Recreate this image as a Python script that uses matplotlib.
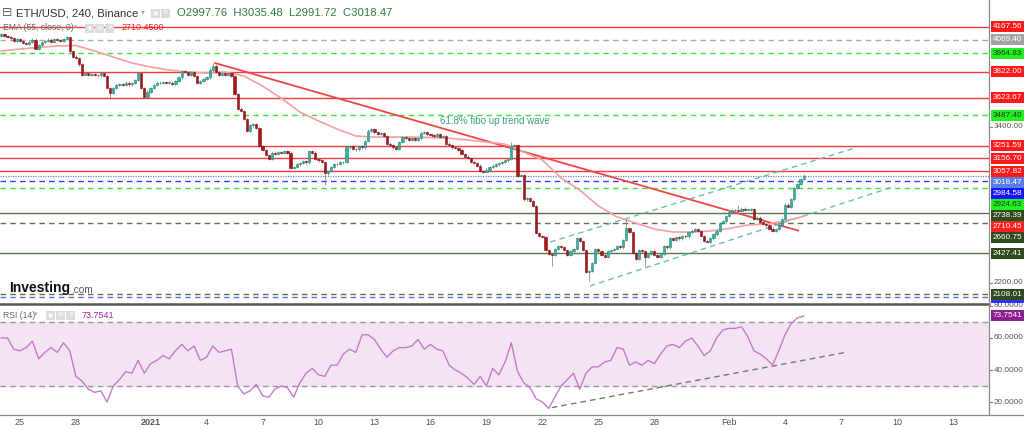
import numpy as np
import pandas as pd
import matplotlib
matplotlib.use("Agg")
import matplotlib.pyplot as plt
from matplotlib.patches import Rectangle
from matplotlib.transforms import blended_transform_factory

plt.rcParams["font.family"] = ["Liberation Sans", "DejaVu Sans"]

START = pd.Timestamp("2020-12-24 00:00")
BAR = pd.Timedelta("4h")

# 4h closes, one row per day (Dec 24 .. Feb 4), then the open Feb 5 candle
close_by_day = [
    [4110, 4100, 4090, 4080, 4060, 4075],
    [4060, 4045, 4040, 4055, 4070, 4000],
    [4030, 4050, 4060, 4070, 4055, 4075],
    [4065, 4060, 4075, 4090, 3980, 3940],
    [3930, 3880, 3800, 3810, 3800, 3805],
    [3800, 3795, 3810, 3790, 3700, 3660],
    [3700, 3720, 3730, 3720, 3740, 3725],
    [3735, 3760, 3810, 3700, 3630, 3670],
    [3700, 3720, 3740, 3735, 3745, 3740],
    [3740, 3730, 3750, 3780, 3830, 3820],
    [3800, 3820, 3790, 3740, 3750, 3765],
    [3780, 3840, 3870, 3820, 3800, 3810],
    [3800, 3810, 3790, 3650, 3540, 3520],
    [3460, 3370, 3410, 3420, 3390, 3250],
    [3220, 3180, 3150, 3200, 3190, 3205],
    [3195, 3210, 3200, 3080, 3090, 3110],
    [3120, 3135, 3125, 3210, 3200, 3150],
    [3140, 3130, 3040, 3060, 3090, 3110],
    [3115, 3125, 3130, 3240, 3250, 3230],
    [3225, 3250, 3240, 3290, 3370, 3380],
    [3360, 3345, 3350, 3330, 3270, 3260],
    [3240, 3230, 3280, 3320, 3310, 3300],
    [3310, 3300, 3315, 3350, 3360, 3340],
    [3335, 3325, 3340, 3320, 3330, 3270],
    [3260, 3240, 3235, 3220, 3190, 3170],
    [3160, 3130, 3120, 3100, 3060, 3050],
    [3070, 3090, 3100, 3110, 3120, 3130],
    [3140, 3150, 3250, 3260, 3020, 3030],
    [2840, 2850, 2830, 2790, 2580, 2560],
    [2550, 2450, 2420, 2410, 2460, 2480],
    [2470, 2450, 2410, 2440, 2460, 2540],
    [2520, 2450, 2280, 2290, 2350, 2460],
    [2440, 2410, 2400, 2440, 2450, 2460],
    [2480, 2470, 2530, 2620, 2590, 2430],
    [2380, 2450, 2440, 2400, 2420, 2440],
    [2410, 2395, 2420, 2480, 2470, 2540],
    [2530, 2550, 2540, 2560, 2555, 2590],
    [2600, 2610, 2595, 2560, 2520, 2510],
    [2540, 2570, 2600, 2660, 2670, 2710],
    [2740, 2760, 2755, 2750, 2770, 2760],
    [2760, 2765, 2690, 2700, 2665, 2650],
    [2640, 2615, 2600, 2610, 2640, 2690],
    [2800, 2780, 2840, 2930, 2960, 2997.76],
]
last_close = 3018.47
first_open = 4100
wick_high = {68: 3890, 164: 3280, 201: 2690, 237: 2800, 258: 3035.48}
wick_low = {35: 3610, 104: 2950, 177: 2330, 189: 2215, 207: 2330, 258: 2991.72}

# EMA(55) read once per day, plus the last value
ema_daily = [3983, 3998, 4010, 4021, 4025, 3983, 3936, 3890, 3860, 3836, 3821,
             3813, 3821, 3790, 3713, 3620, 3513, 3444, 3382, 3328, 3320, 3320,
             3320, 3316, 3312, 3297, 3282, 3266, 3205, 3143, 3005, 2912, 2790,
             2705, 2658, 2612, 2589, 2589, 2597, 2616, 2643, 2650, 2674]
ema_last = 2710.45

# RSI(14) read every second candle
rsi_values = [60, 60, 53, 52, 54, 58, 47, 51, 54, 51,
              57, 52, 36, 33, 28, 26, 27, 20, 30, 34,
              39, 38, 46, 38, 44, 46, 49, 47, 52, 56,
              52, 55, 46, 48, 55, 51, 52, 53, 30, 25,
              27, 31, 24, 23, 28, 30, 29, 23, 32, 38,
              41, 37, 36, 43, 43, 50, 53, 51, 62, 62,
              59, 53, 48, 52, 54, 54, 55, 59, 53, 56,
              53, 52, 43, 40, 38, 35, 31, 36, 30, 41,
              37, 45, 57, 39, 32, 29, 22, 20, 16, 23,
              30, 34, 38, 28, 38, 42, 42, 45, 46, 54,
              53, 43, 45, 43, 46, 44, 50, 55, 56, 54,
              58, 60, 55, 49, 52, 60, 65, 66, 66, 67,
              61, 52, 50, 47, 43, 52, 62, 69, 72.5, 73.7541]

# horizontal levels
level_prices = [4167.56, 4069.40, 3964.83, 3822.00, 3623.67, 3487.40, 3251.59,
                3156.70, 3057.82, 2984.58, 2924.63, 2738.39, 2660.75, 2427.41,
                2108.01]
level_kinds = ["red", "gray", "lime", "red", "red", "lime", "red",
               "red", "red", "blue", "lime", "olive", "olive_dash", "olive",
               "olive_dash"]
hidden_level = 2085.00

trend_red = [("2021-01-04 11:00", 3890), ("2021-02-04 17:00", 2600)]
channel_upper = [("2021-01-22 10:00", 2512), ("2021-02-07 18:00", 3236)]
channel_lower = [("2021-01-24 13:00", 2173), ("2021-02-09 22:00", 2943)]
rsi_trend = [("2021-01-22 12:00", 16.5), ("2021-02-07 09:00", 51.3)]

tick_dates = ["2020-12-25", "2020-12-28", "2021-01-01", "2021-01-04", "2021-01-07",
              "2021-01-10", "2021-01-13", "2021-01-16", "2021-01-19", "2021-01-22",
              "2021-01-25", "2021-01-28", "2021-02-01", "2021-02-04", "2021-02-07",
              "2021-02-10", "2021-02-13"]
tick_labels = ["25", "28", "2021", "4", "7", "10", "13", "16", "19", "22",
               "25", "28", "Feb", "4", "7", "10", "13"]

LINE_STYLE = {
    "red": ("#f53b3b", "-"),
    "gray": ("#aaaaaa", (0, (4, 3))),
    "lime": ("#3ee83e", (0, (4, 3))),
    "blue": ("#3b3bf5", (0, (4, 3))),
    "olive": ("#5b7450", "-"),
    "olive_dash": ("#5b7450", (0, (4, 3))),
}
LABEL_STYLE = {
    "red": ("#ff1a1a", "white"),
    "gray": ("#a3a3a3", "white"),
    "lime": ("#22f022", "#1a3a1a"),
    "blue": ("#1414ff", "white"),
    "olive": ("#2f4a1e", "white"),
    "olive_dash": ("#2f4a1e", "white"),
    "current": ("#5a80e8", "white"),
    "ema": ("#ff2020", "white"),
}


def tx(ts):
    return (pd.Timestamp(ts) - START) / BAR


W, H = 1024, 430
AX_RIGHT = 989
PMAX, PMIN = 4375.4, 2042.5
RMAX, RMIN = 80.6, 11.9
FS = 5.9

closes = np.array([c for day in close_by_day for c in day] + [last_close], dtype=float)
opens = np.concatenate([[first_open], closes[:-1]])
highs = np.maximum(opens, closes) + 9
lows = np.minimum(opens, closes) - 9
for i, v in wick_high.items():
    highs[i] = v
for i, v in wick_low.items():
    lows[i] = v
xs = np.arange(len(closes))
up = closes >= opens

fig = plt.figure(figsize=(W / 100, H / 100), dpi=100)
fig.patch.set_facecolor("white")
ax = fig.add_axes([0, 1 - 303 / H, AX_RIGHT / W, 303 / H])
rx = fig.add_axes([0, 1 - 415 / H, AX_RIGHT / W, 110 / H])
xmin, xmax = -0.42, 317.6
for a in (ax, rx):
    a.set_xlim(xmin, xmax)
    a.axis("off")
ax.set_ylim(PMIN, PMAX)
rx.set_ylim(RMIN, RMAX)

# levels
for p, k in zip(level_prices, level_kinds):
    col, ls = LINE_STYLE[k]
    ax.axhline(p, color=col, linestyle=ls, lw=1.0, zorder=1)
ax.axhline(hidden_level, color="#6a6af5", linestyle=(0, (4, 3)), lw=1.0, zorder=1)
ax.axhline(last_close, color="#6688ee", linestyle=(0, (1, 1)), lw=0.9, zorder=1)

# trend lines
ax.plot([tx(t) for t, _ in trend_red], [p for _, p in trend_red],
        color="#f24646", lw=1.3, zorder=2)
for line in (channel_upper, channel_lower):
    ax.plot([tx(t) for t, _ in line], [p for _, p in line],
            color="#6cbfae", lw=1.0, linestyle=(0, (4, 3)), zorder=2)

# EMA
ema_x = [6 * d for d in range(len(ema_daily))] + [len(closes) - 1]
ax.plot(ema_x, ema_daily + [ema_last], color="#f5a0a0", lw=1.2, zorder=2)

# candles
ax.vlines(xs, lows, highs, color="#8a8a8a", lw=0.6, zorder=3)
body_lo = np.minimum(opens, closes)
body_h = np.maximum(np.abs(closes - opens), 4)
ax.bar(xs[up], body_h[up], bottom=body_lo[up], width=0.7,
       color="#2fb5a0", edgecolor="#23857a", linewidth=0.4, zorder=4)
ax.bar(xs[~up], body_h[~up], bottom=body_lo[~up], width=0.7,
       color="#a8161c", edgecolor="#7d0f13", linewidth=0.4, zorder=4)

ax.text(tx("2021-01-16 12:00"), 3443, "61.8% fibo up trend wave",
        color="#3d9e86", fontsize=7, va="center", ha="left")

# RSI panel
rx.axhspan(30, 70, color="#f3e4f3", zorder=0)
for lvl in (70, 30):
    rx.axhline(lvl, color="#9a9a9a", lw=1.0, linestyle=(0, (4, 3)), zorder=1)
rx.plot(np.arange(len(rsi_values)) * 2, rsi_values, color="#c77acb", lw=1.0, zorder=3)
rx.plot([tx(t) for t, _ in rsi_trend], [v for _, v in rsi_trend],
        color="#6f7a6f", lw=1.0, linestyle=(0, (4, 3)), zorder=2)


def price_py(p):
    return (PMAX - p) / (PMAX - PMIN) * 303


def rsi_py(v):
    return 305 + (RMAX - v) / (RMAX - RMIN) * 110


def fy(py):
    return 1 - py / H


def value_box(py, text, bg, fg, z=5):
    fig.patches.append(Rectangle((991 / W, fy(py + 5.5)), 33 / W, 11 / H,
                                 transform=fig.transFigure, facecolor=bg,
                                 edgecolor="none", zorder=z))
    if text:
        fig.text(1007.5 / W, fy(py), text, ha="center", va="center",
                 fontsize=FS, color=fg, zorder=z + 1)


# price labels, pushed down so they do not overlap
labels = [(p, f"{p:.2f}", k) for p, k in zip(level_prices, level_kinds)]
labels += [(last_close, f"{last_close:.2f}", "current"), (ema_last, f"{ema_last:.2f}", "ema")]
labels.sort(key=lambda t: -t[0])
value_box(price_py(hidden_level), "", "#3030ff", "white", z=4)
box_pys = []
prev = -100
for p, txt, k in labels:
    py = max(price_py(p), prev + 11)
    prev = py
    box_pys.append(py)
    value_box(py, txt, *LABEL_STYLE[k])
value_box(rsi_py(73.7541), "73.7541", "#8e1f8e", "white")

# axis tick labels, only where no value box covers them
for p in range(2200, 4400, 200):
    py = price_py(p)
    if any(abs(py - b) < 9.5 for b in box_pys):
        continue
    fig.text(994 / W, fy(py), f"{p:.2f}", ha="left", va="center",
             fontsize=FS, color="#555555", zorder=3)
    fig.lines.append(plt.Line2D([989 / W, 992 / W], [fy(py), fy(py)],
                                transform=fig.transFigure, color="#888888", lw=0.8))
for v in (80, 60, 40, 20):
    py = rsi_py(v)
    fig.text(994 / W, fy(py), f"{v:.4f}", ha="left", va="center",
             fontsize=FS, color="#555555", zorder=3)
    fig.lines.append(plt.Line2D([989 / W, 992 / W], [fy(py), fy(py)],
                                transform=fig.transFigure, color="#888888", lw=0.8))

# frame lines
fig.lines.append(plt.Line2D([0, AX_RIGHT / W], [fy(304), fy(304)], transform=fig.transFigure,
                            color="#555555", lw=1.8, zorder=7))
fig.lines.append(plt.Line2D([AX_RIGHT / W, AX_RIGHT / W], [fy(0), fy(415)], transform=fig.transFigure,
                            color="#8a8a8a", lw=0.9, zorder=7))
fig.lines.append(plt.Line2D([0, 1], [fy(415), fy(415)], transform=fig.transFigure,
                            color="#8a8a8a", lw=0.9, zorder=7))

# date labels
trans = blended_transform_factory(rx.transData, fig.transFigure)
for d, lab in zip(tick_dates, tick_labels):
    fig.text(tx(d), fy(422.5), lab, transform=trans, ha="center", va="center",
             fontsize=6.5, color="#555555",
             fontweight="bold" if lab == "2021" else "normal")


def icons(x0, py, n):
    glyphs = ["◉", "⚙", "✕"]
    for i in range(n):
        fig.patches.append(Rectangle(((x0 + i * 10) / W, fy(py + 4.5)), 9 / W, 9 / H,
                                     transform=fig.transFigure, facecolor="#dcdcdc",
                                     edgecolor="none", zorder=5))
        fig.text((x0 + i * 10 + 4.5) / W, fy(py), glyphs[i],
                 ha="center", va="center", fontsize=4.5, color="white", zorder=6)


# header
fig.text(2 / W, fy(13), "⊟", fontsize=9, color="#666666", va="center", ha="left")
fig.text(16 / W, fy(13), "ETH/USD, 240, Binance", fontsize=8.2, color="#333333",
         va="center", ha="left")
fig.text(141 / W, fy(13), "▾", fontsize=5.5, color="#aaaaaa", va="center", ha="left")
icons(151, 13, 2)
fig.text(177 / W, fy(13), "O2997.76  H3035.48  L2991.72  C3018.47", fontsize=8.2,
         color="#2f7d46", va="center", ha="left")

fig.text(3 / W, fy(28), "EMA (55, close, 0)", fontsize=6.2, color="#666666",
         va="center", ha="left")
fig.text(74 / W, fy(28), "▾", fontsize=5, color="#aaaaaa", va="center", ha="left")
icons(85, 28, 3)
fig.text(122 / W, fy(28), "2710.4500", fontsize=6.5, color="#f02020", va="center", ha="left")

fig.text(3 / W, fy(315), "RSI (14)", fontsize=6.2, color="#666666", va="center", ha="left")
fig.text(34 / W, fy(315), "▾", fontsize=5, color="#aaaaaa", va="center", ha="left")
icons(46, 315, 3)
fig.text(82 / W, fy(315), "73.7541", fontsize=6.5, color="#9b2a9b", va="center", ha="left")

# watermark
fig.text(9 / W, fy(288), "Investing", fontsize=10, fontweight="bold", color="#111111",
         va="center", ha="left")
fig.text(71 / W, fy(290), ".com", fontsize=7.2, color="#555555", va="center", ha="left")

fig.savefig("out.png", dpi=100, facecolor="white")
